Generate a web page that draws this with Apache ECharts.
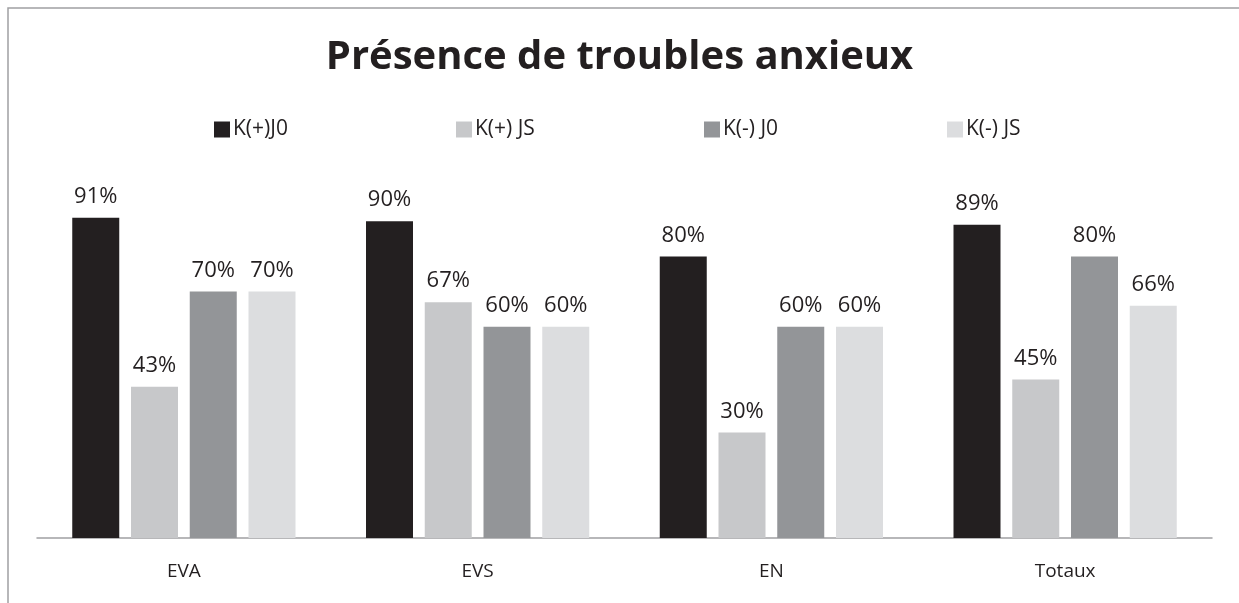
<!DOCTYPE html>
<html>
<head>
<meta charset="utf-8">
<script src="https://cdn.jsdelivr.net/npm/echarts@6/dist/echarts.min.js"></script>
<style>html,body{margin:0;padding:0;background:#fff}#c{width:1239px;height:603px}</style>
</head>
<body>
<div id="c"></div>
<script>
const categories = ['EVA', 'EVS', 'EN', 'Totaux'];
const seriesNames = ['K(+)J0', 'K(+) JS', 'K(-) J0', 'K(-) JS'];
const kPlusJ0 = [91, 90, 80, 89];
const kPlusJS = [43, 67, 30, 45];
const kMinusJ0 = [70, 60, 60, 80];
const kMinusJS = [70, 60, 60, 66];
const colors = ['#231f20', '#c7c8ca', '#939598', '#dcdddf'];
const legendLefts = [209, 451, 699, 942];

const font = '"Open Sans", "DejaVu Sans", sans-serif';
const allData = [kPlusJ0, kPlusJS, kMinusJ0, kMinusJS];

const chart = echarts.init(document.getElementById('c'));
chart.setOption({
  animation: false,
  backgroundColor: '#fff',
  title: {
    text: 'Présence de troubles anxieux',
    left: 'center',
    top: 33,
    textStyle: { fontFamily: font, fontSize: 40, fontWeight: 'bold', color: '#231f20' }
  },
  legend: seriesNames.map((n, i) => ({
    data: [n],
    left: legendLefts[i],
    top: 114,
    itemWidth: 16,
    itemHeight: 16,
    itemGap: 0,
    icon: 'rect',
    textStyle: { fontFamily: font, fontSize: 21, color: '#231f20', padding: [0, 0, 0, -2] }
  })),
  grid: { left: 37, right: 27, top: 186, bottom: 65, containLabel: false },
  xAxis: {
    type: 'category',
    data: categories,
    axisLine: { lineStyle: { color: '#a0a0a2', width: 1.5 } },
    axisTick: { show: false },
    axisLabel: { fontFamily: font, fontSize: 19, color: '#231f20', margin: 24 }
  },
  yAxis: { type: 'value', min: 0, max: 100, show: false, splitLine: { show: false } },
  graphic: [{
    type: 'rect',
    shape: { x: 8, y: 8, width: 1400, height: 800 },
    style: { fill: 'none', stroke: '#a0a0a2', lineWidth: 1.5 },
    silent: true, z: 0
  }],
  series: seriesNames.map((n, i) => ({
    name: n,
    type: 'bar',
    data: allData[i],
    barCategoryGap: '24%',
    barGap: '25%',
    itemStyle: { color: colors[i] },
    label: {
      show: true,
      position: 'top',
      distance: 10,
      formatter: '{c}%',
      fontFamily: font,
      fontSize: 22,
      color: '#231f20'
    }
  }))
});
</script>
</body>
</html>
